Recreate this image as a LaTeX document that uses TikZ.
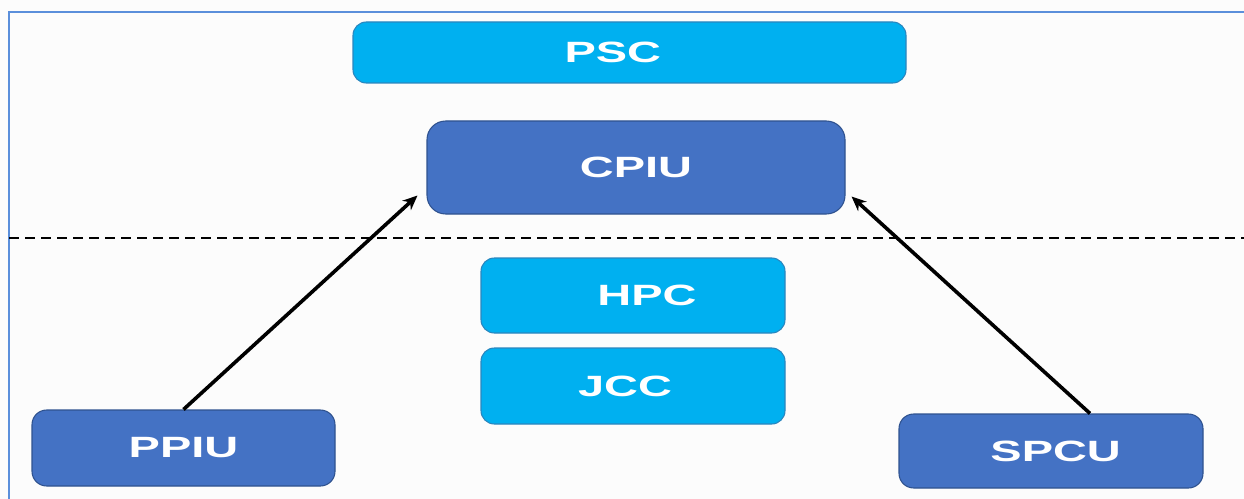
\documentclass[tikz,border=0pt]{standalone}
\usepackage{fontspec}
\setmainfont{Liberation Sans}
\newfontfamily\lblfont[FakeStretch=1.6]{Liberation Sans}
\usetikzlibrary{arrows.meta}
\definecolor{lightbox}{HTML}{00B0F0}
\definecolor{lightedge}{HTML}{2A86BE}
\definecolor{darkbox}{HTML}{4472C4}
\definecolor{darkedge}{HTML}{2F528F}
\definecolor{framecol}{HTML}{5B8FDB}
\tikzset{
  boxbase/.style={rectangle, draw, line width=0.8pt, text=white,
    font=\lblfont\bfseries\fontsize{22}{24}\selectfont, inner sep=0pt},
  lightnode/.style={boxbase, fill=lightbox, draw=lightedge, rounded corners=10pt},
  darknode/.style={boxbase, fill=darkbox, draw=darkedge, rounded corners=11pt},
  flow/.style={line width=2.7pt, -{Stealth[length=11pt,width=9.5pt]}},
  divider/.style={line width=1.8pt, dash pattern=on 7.5pt off 4.5pt}
}
\begin{document}
\begin{tikzpicture}[x=0.75pt,y=-0.75pt]
\useasboundingbox (0,0) rectangle (1244,499);
\fill[white!99!black] (0,0) rectangle (1244,499);
\draw[framecol, line width=1.8pt] (9,499) -- (9,12) -- (1244,12);
\draw[divider] (9,238) -- (1244,238);
\node[lightnode, minimum width=553*0.75pt, minimum height=61*0.75pt] (psc) at (629.5,52.5) {PSC\hspace*{25pt}};
\node[darknode, minimum width=418*0.75pt, minimum height=93*0.75pt, rounded corners=14pt] (cpiu) at (636,167.5) {CPIU};
\node[lightnode, minimum width=304*0.75pt, minimum height=75*0.75pt] (hpc) at (633,295.5) {\hspace*{21pt}HPC};
\node[lightnode, minimum width=304*0.75pt, minimum height=76*0.75pt] (jcc) at (633,386) {JCC\hspace*{12pt}};
\node[darknode, minimum width=303*0.75pt, minimum height=76*0.75pt] (ppiu) at (183.5,448) {PPIU};
\node[darknode, minimum width=304*0.75pt, minimum height=74*0.75pt] (spcu) at (1051,451) {\raisebox{-2.5pt}{\hspace*{7pt}SPCU}};
\draw[flow] (ppiu.north) -- ([shift={(-9,-19)}]cpiu.south west);
\draw[flow] ([shift={(39,0)}]spcu.north) -- ([shift={(6,-18)}]cpiu.south east);
\end{tikzpicture}
\end{document}
